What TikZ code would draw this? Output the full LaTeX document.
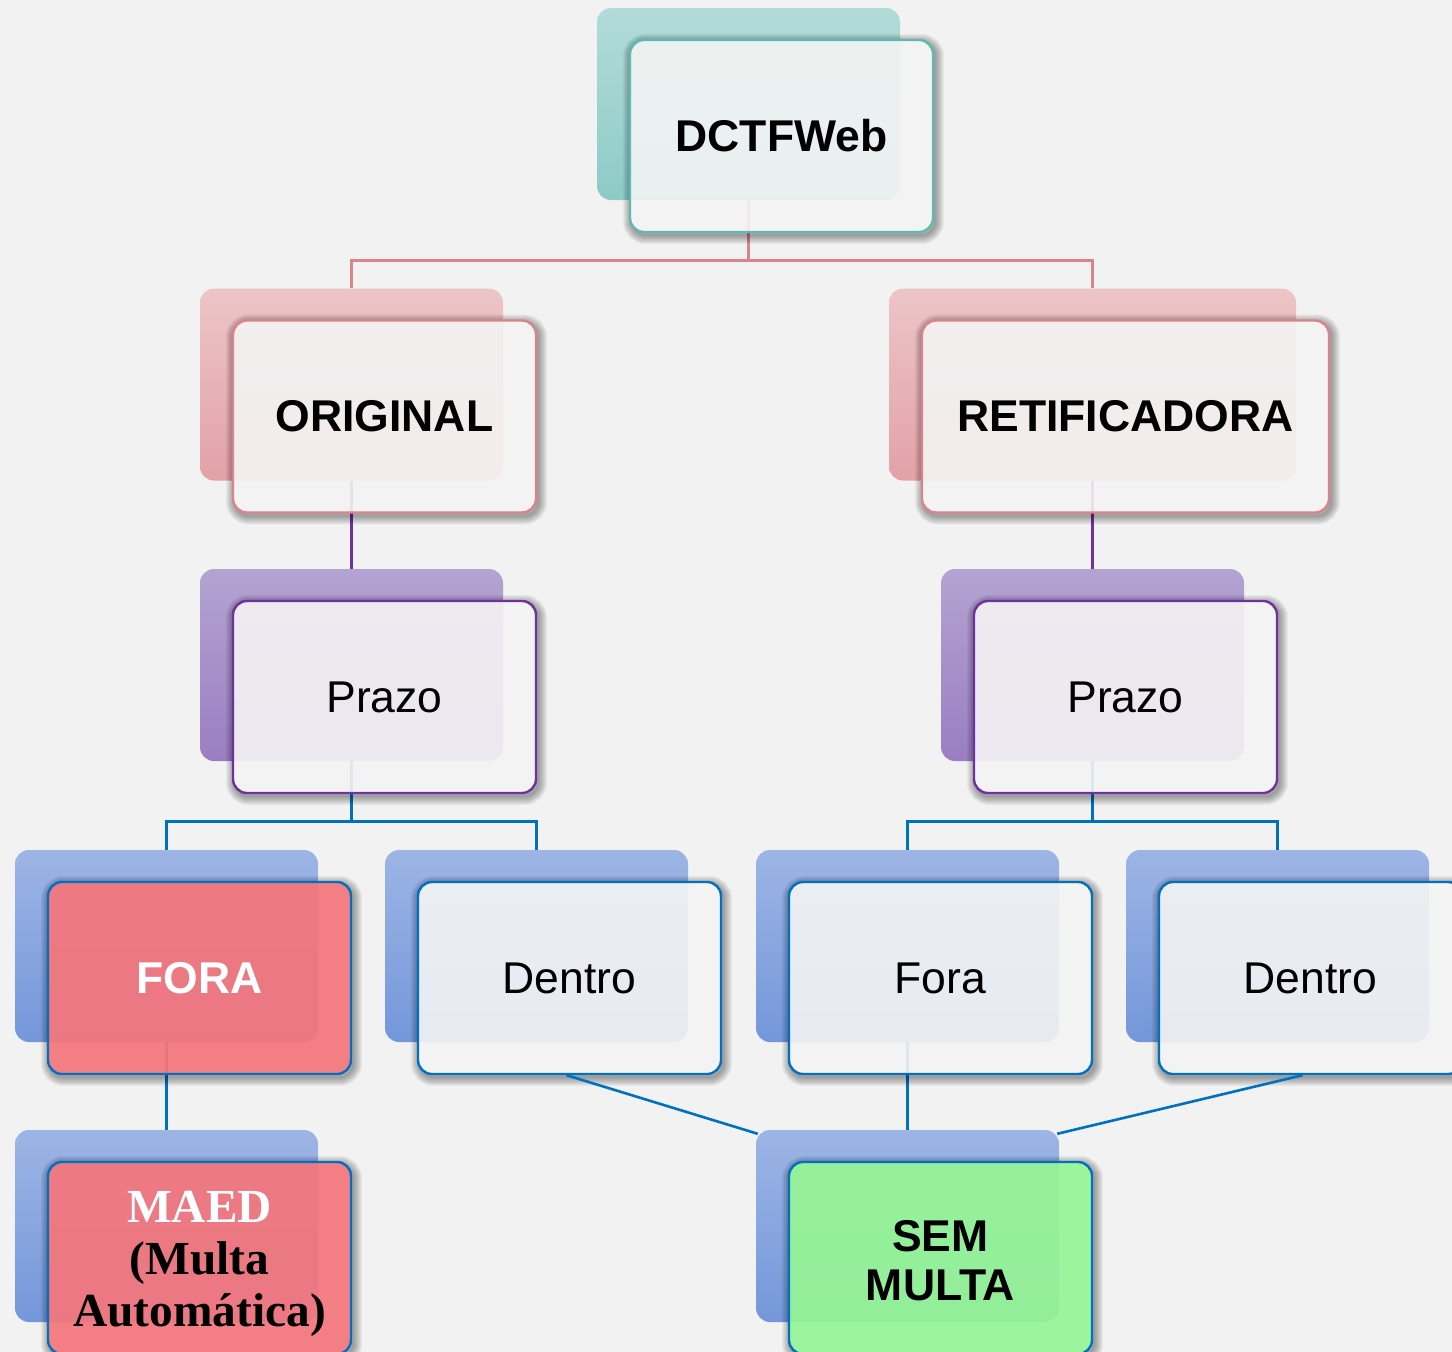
\documentclass[tikz,border=0pt]{standalone}
\usepackage{fontspec}
\setmainfont{Liberation Sans}
\newfontfamily\serifbox{Liberation Serif}

\definecolor{bgray}{HTML}{F2F2F2}
\definecolor{frontfill}{HTML}{F4F4F4}
\definecolor{tealtop}{HTML}{B2DBD8}
\definecolor{tealbot}{HTML}{8DCBC7}
\definecolor{tealline}{HTML}{5DB9B3}
\definecolor{pinktop}{HTML}{EDC5C7}
\definecolor{pinkbot}{HTML}{E2A1A7}
\definecolor{pinkline}{HTML}{D9838A}
\definecolor{purptop}{HTML}{B4A3D2}
\definecolor{purpbot}{HTML}{9A7EC2}
\definecolor{purpline}{HTML}{7030A0}
\definecolor{bluetop}{HTML}{9DB5E5}
\definecolor{bluebot}{HTML}{7397DA}
\definecolor{blueline}{HTML}{0070C0}
\definecolor{redfill}{HTML}{F4767C}
\definecolor{greenfill}{HTML}{96F596}

\tikzset{
    backbox/.style = {rectangle, rounded corners = 14pt, minimum width = 303pt, minimum height = 192pt, inner sep = 0pt},
    teal back/.style = {top color = tealtop, bottom color = tealbot},
    pink back/.style = {top color = pinktop, bottom color = pinkbot},
    purple back/.style = {top color = purptop, bottom color = purpbot},
    blue back/.style = {top color = bluetop, bottom color = bluebot},
    frontbox/.style = {rectangle, rounded corners = 14pt, minimum width = 303pt, minimum height = 192pt, inner sep = 0pt,
        line width = 2.4pt, fill = frontfill, fill opacity = 0.9, text opacity = 1, align = center,
        font = \fontsize{44.5}{49}\selectfont},
    tree line/.style = {line width = 2.6pt}
}

% soft shadow round a front box, kept outside of it
\newcommand{\boxshadow}[1]{%
    \begin{scope}
        \clip (-60,-60) rectangle (1560,1460) [rounded corners = 14pt]
            ([shift = {(33,32)}]#1.north east) rectangle ([shift = {(33,32)}]#1.south west);
        \foreach \s in {1,...,9}
            \draw[black, opacity = 0.045, line width = {2*\s pt}, rounded corners = 14pt]
                ([shift = {(35,35)}]#1.north west) rectangle ([shift = {(35,35)}]#1.south east);
    \end{scope}}

\begin{document}
\begin{tikzpicture}[x = 1pt, y = -1pt]
    \useasboundingbox[fill = bgray] (0,0) rectangle (1452,1352);

    % back boxes
    \node[backbox, teal back] (dctfB) at (748.5,104) {};
    \node[backbox, pink back] (origB) at (351.5,384.5) {};
    \node[backbox, pink back, minimum width = 407pt] (retB) at (1092.5,384.5) {};
    \node[backbox, purple back] (prazoLB) at (351.5,665) {};
    \node[backbox, purple back] (prazoRB) at (1092.5,665) {};
    \node[backbox, blue back] (foraLB) at (166.5,946) {};
    \node[backbox, blue back] (dentroLB) at (536.5,946) {};
    \node[backbox, blue back] (foraRB) at (907.5,946) {};
    \node[backbox, blue back] (dentroRB) at (1277.5,946) {};
    \node[backbox, blue back] (maedB) at (166.5,1226) {};
    \node[backbox, blue back] (semB) at (907.5,1226) {};

    % tree lines
    \foreach \p/\c/\col in {dctfB/origB/pinkline, dctfB/retB/pinkline, origB/prazoLB/purpline, retB/prazoRB/purpline,
            prazoLB/foraLB/blueline, prazoLB/dentroLB/blueline, prazoRB/foraRB/blueline, prazoRB/dentroRB/blueline,
            foraLB/maedB/blueline, foraRB/semB/blueline}
        \draw[tree line, \col] (\p.south) -- ++(0,60) -| (\c.north);

    \foreach \b in {dctfB, origB, retB, prazoLB, prazoRB, foraLB, dentroLB, foraRB, dentroRB, maedB, semB}
        \boxshadow{\b};

    % front boxes
    \node[frontbox, draw = tealline] (dctf) at ([shift = {(33,32)}]dctfB.center) {\bfseries DCTFWeb};
    \node[frontbox, draw = pinkline] (orig) at ([shift = {(33,32)}]origB.center) {\bfseries ORIGINAL};
    \node[frontbox, draw = pinkline, minimum width = 407pt] (ret) at ([shift = {(33,32)}]retB.center) {\bfseries RETIFICADORA};
    \node[frontbox, draw = purpline] (prazoL) at ([shift = {(33,32)}]prazoLB.center) {Prazo};
    \node[frontbox, draw = purpline] (prazoR) at ([shift = {(33,32)}]prazoRB.center) {Prazo};
    \node[frontbox, draw = blueline, fill = redfill, fill opacity = 0.93, text = white] (foraL) at ([shift = {(33,32)}]foraLB.center) {\bfseries FORA};
    \node[frontbox, draw = blueline] (dentroL) at ([shift = {(33,32)}]dentroLB.center) {Dentro};
    \node[frontbox, draw = blueline] (foraR) at ([shift = {(33,32)}]foraRB.center) {Fora};
    \node[frontbox, draw = blueline] (dentroR) at ([shift = {(33,32)}]dentroRB.center) {Dentro};
    \node[frontbox, draw = blueline, fill = redfill, fill opacity = 0.93,
        font = \serifbox\bfseries\fontsize{47.4}{52}\selectfont] (maed) at ([shift = {(33,32)}]maedB.center)
        {\rule{0pt}{44pt}\textcolor{white}{MAED}\\(Multa\\Automática)};
    \node[frontbox, draw = blueline, fill = greenfill, fill opacity = 0.93] (sem) at ([shift = {(33,32)}]semB.center)
        {\rule{0pt}{36pt}\bfseries SEM\\\bfseries MULTA};

    %\draw[tree line, blueline] (dentroL.south) -- (semB.north west);
    \draw[tree line, blueline] ([xshift = -3pt]dentroL.south) -- ([shift = {(2,4)}]semB.north west);
    \draw[tree line, blueline] ([xshift = -8pt]dentroR.south) -- ([shift = {(-2,4)}]semB.north east);
\end{tikzpicture}
\end{document}
